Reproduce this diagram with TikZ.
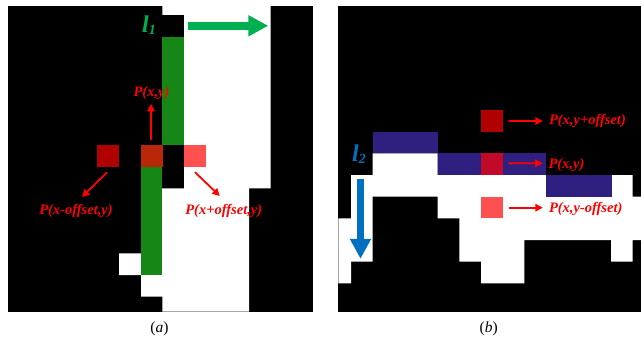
\documentclass[tikz,border=0pt]{standalone}
\usepackage{fontspec}
\setmainfont{Liberation Serif}
\usetikzlibrary{arrows.meta,calc}

\definecolor{colgreen}{RGB}{22,134,22}
\definecolor{cellorange}{RGB}{184,40,8}
\definecolor{celldark}{RGB}{176,0,0}
\definecolor{celllight}{RGB}{255,80,80}
\definecolor{cellpurple}{RGB}{46,31,128}
\definecolor{cellcrimson}{RGB}{192,10,40}
\definecolor{arrgreen}{RGB}{0,176,80}
\definecolor{arrblue}{RGB}{0,112,192}

\tikzset{
  cell/.style={rectangle, draw=none, inner sep=0pt, minimum size=21.7pt},
  plab/.style={text=red, inner sep=0pt, font=\fontsize{14.5}{14.5}\selectfont\bfseries\itshape},
  llab/.style={inner sep=0pt, anchor=base west, font=\bfseries\itshape},
  redarrow/.style={draw=red, line width=1.8pt, -{Triangle[length=7.5pt,width=7.5pt]}},
  bigarrow/.style={line width=8.3pt, -{Triangle[length=20pt,width=20pt]}},
  caption/.style={inner sep=0pt, font=\fontsize{15.5}{15.5}\selectfont}
}

\begin{document}
\begin{tikzpicture}[x=1pt,y=-1pt]
\useasboundingbox (0,0) rectangle (641,341);

% ---------------- panel (a): horizontal scan ----------------
\fill[black] (8,6) rectangle (312.7,311.7);
\fill[white] (162.3,6) -- (270.6,6) -- (270.6,188.3) -- (249,188.3) -- (249,311.7)
  -- (162.3,311.7) -- (162.3,296.7) -- (141,296.7) -- (141,275) -- (119,275)
  -- (119,253.3) -- (141,253.3) -- (141,188.3) -- (184,188.3) -- (184,14.9)
  -- (162.3,14.9) -- cycle;
\fill[colgreen] (162.3,36.6) rectangle (184,145);
\fill[colgreen] (141,166.7) rectangle (162.3,275);

\node[cell, fill=celldark]   (aL) at (108.15,155.85) {};
\node[cell, fill=cellorange] (aC) at (151.65,155.85) {};
\node[cell, fill=celllight]  (aR) at (194.8,155.85) {};

\node[plab] (labC) at (151.5,93) {P(x,y)};
\node[plab] (labL) at (76,211) {P(x-offset,y)};
\node[plab] (labR) at (223.8,211) {P(x+offset,y)};

\draw[redarrow] ($(aC.north)+(-0.6,-5)$) -- ($(labC.south)+(-0.5,4)$);
\draw[redarrow] ($(aL.south)+(-1,5.3)$) -- ($(labL.center)+(6,-14)$);
\draw[redarrow] ($(aR.south)+(0.2,5.3)$) -- ($(labR.center)+(-4,-15)$);

\node[llab, text=arrgreen] (l1) at (142,32)
  {{\fontsize{24}{24}\selectfont l}\raisebox{-2.5pt}{\fontsize{14}{14}\selectfont 1}};
\coordinate (g1) at (188.3,25.8);
\coordinate (g2) at (268.3,25.8);
\draw[bigarrow, draw=arrgreen, fill=arrgreen] (g1) -- (g2);

\node[caption] (capa) at (159.5,329) {(\textit{a})};

% ---------------- panel (b): vertical scan ----------------
\fill[black] (338.3,6) rectangle (641,311.7);
\fill[white] (372.7,153.3) -- (437.7,153.3) -- (437.7,175) -- (632.7,175)
  -- (632.7,196.7) -- (641,196.7) -- (641,240) -- (632.7,240) -- (632.7,261.7)
  -- (611,261.7) -- (611,240) -- (524.3,240) -- (524.3,283.3) -- (481,283.3)
  -- (481,261.7) -- (459.3,261.7) -- (459.3,218.3) -- (437.7,218.3)
  -- (437.7,196.7) -- (372.7,196.7) -- (372.7,261.7) -- (351,261.7)
  -- (351,283.3) -- (338.3,283.3) -- (338.3,218.3) -- (351,218.3)
  -- (351,175) -- (372.7,175) -- cycle;
\fill[cellpurple] (372.7,131.7) rectangle (437.7,153.3);
\fill[cellpurple] (437.7,153.3) rectangle (546,175);
\fill[cellpurple] (546,175) rectangle (611.5,196.7);

\node[cell, fill=celldark]    (bU) at (491.85,120.85) {};
\node[cell, fill=cellcrimson] (bC) at (491.85,164.15) {};
\node[cell, fill=celllight]   (bD) at (491.85,207.5) {};

\node[plab, anchor=west] (labU) at (548.8,121) {P(x,y+offset)};
\node[plab, anchor=west] (labM) at (548.3,165.5) {P(x,y)};
\node[plab, anchor=west] (labD) at (548.8,209) {P(x,y-offset)};

\draw[redarrow] ($(bU.east)+(5.6,0.2)$) -- ($(labU.west)+(-6,0)$);
\draw[redarrow] ($(bC.east)+(5.6,-0.8)$) -- ($(labM.west)+(-5.6,-2.2)$);
\draw[redarrow] ($(bD.east)+(5.6,0.2)$) -- ($(labD.west)+(-6,-1.3)$);

\node[llab, text=arrblue] (l2) at (352,161.3)
  {{\fontsize{24}{24}\selectfont l}\raisebox{-2.5pt}{\fontsize{14}{14}\selectfont 2}};
\coordinate (v1) at (360.5,179.3);
\coordinate (v2) at (360.5,258.8);
\draw[bigarrow, line width=7.7pt, draw=arrblue, fill=arrblue] (v1) -- (v2);

\node[caption] (capb) at (488.7,329) {(\textit{b})};
\end{tikzpicture}
\end{document}
